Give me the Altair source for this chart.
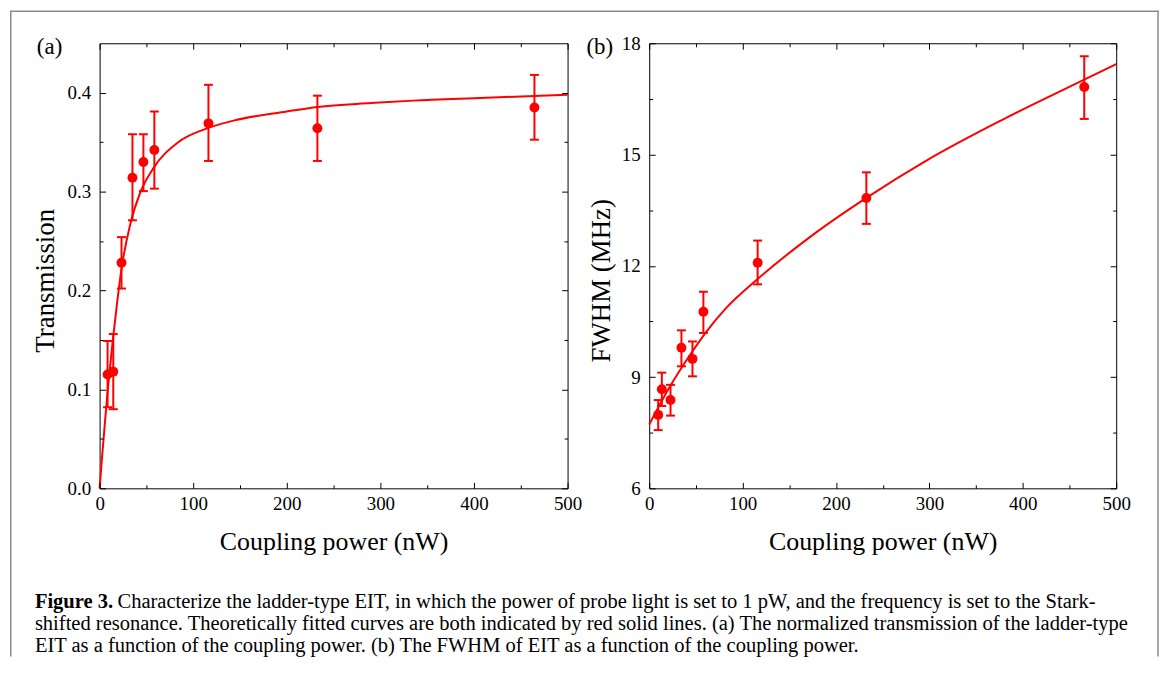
import altair as alt
import pandas as pd

FONT = "Liberation Serif"
RED = "#ff0000"

# ---------------- Panel (a): transmission ----------------
a_power = [8.5, 14.6, 23.4, 35.1, 46.8, 58.5, 116.3, 232.7, 464.6]
a_trans = [0.115, 0.118, 0.228, 0.314, 0.330, 0.342, 0.369, 0.364, 0.385]
a_lo = [0.082, 0.080, 0.202, 0.271, 0.3005, 0.303, 0.331, 0.331, 0.3525]
a_hi = [0.149, 0.156, 0.254, 0.358, 0.358, 0.381, 0.408, 0.397, 0.418]

a_curve_p = [0, 3, 6, 9, 13.8, 19, 23.4, 33, 43, 57, 84, 112, 144, 200, 233, 290, 335, 400, 465, 500]
a_curve_t = [0, 0.036, 0.070, 0.102, 0.147, 0.190, 0.222, 0.268, 0.298, 0.323, 0.350, 0.363,
             0.372, 0.381, 0.3856, 0.3895, 0.392, 0.3945, 0.3967, 0.398]

# ---------------- Panel (b): FWHM ----------------
b_power = [9.6, 13.5, 22.8, 34.5, 46.3, 58.0, 116.1, 232.5, 465.8]
b_fwhm = [7.98, 8.67, 8.38, 9.79, 9.49, 10.76, 12.08, 13.83, 16.82]
b_lo = [7.57, 8.22, 7.96, 9.29, 9.02, 10.19, 11.50, 13.13, 15.96]
b_hi = [8.38, 9.12, 8.79, 10.26, 9.96, 11.30, 12.68, 14.52, 17.65]

b_curve_p = [0, 21.4, 42.7, 60.5, 82, 115.5, 174.5, 232.5, 299, 377.5, 465.8, 500]
b_curve_f = [7.72, 8.71, 9.56, 10.2, 10.85, 11.63, 12.82, 13.83, 14.87, 15.93, 17.02, 17.44]

# ---------------- axis ticks / labels ----------------
x_major = [0, 100, 200, 300, 400, 500]
x_minor = [50, 150, 250, 350, 450]
a_y_major = [0.0, 0.1, 0.2, 0.3, 0.4]
a_y_minor = [0.05, 0.15, 0.25, 0.35]
b_y_major = [6, 9, 12, 15, 18]
b_y_minor = [7.5, 10.5, 13.5, 16.5]

x_title = "Coupling power (nW)"
a_y_title = "Transmission"
b_y_title = "FWHM (MHz)"

caption_bold = "Figure 3."
caption_1 = ("Characterize the ladder-type EIT, in which the power of probe light is set to 1 pW, "
             "and the frequency is set to the Stark-")
caption_2 = ("shifted resonance. Theoretically fitted curves are both indicated by red solid lines. "
             "(a) The normalized transmission of the ladder-type")
caption_3 = "EIT as a function of the coupling power. (b) The FWHM of EIT as a function of the coupling power."

W_A, W_B, H = 470, 469, 447
CAP = 20.6


def tick_axis(orient, values, size):
    return alt.Axis(orient=orient, values=values, labels=False, domain=False, title=None,
                    ticks=True, tickSize={"expr": str(-size)}, tickColor="black",
                    tickWidth=1, grid=False, zindex=1)


def label_axis(orient, values, title, fmt=None, title_x=None):
    kw = dict(orient=orient, values=values, labels=True, ticks=False, domain=False,
              title=title, grid=False, labelFlush=False, labelOverlap=False,
              labelFont=FONT, labelFontSize=19, labelColor="black",
              titleFont=FONT, titleFontWeight="normal", titleColor="black")
    if fmt:
        kw["format"] = fmt
    if orient == "bottom":
        kw.update(labelPadding=6, titlePadding=15, titleFontSize=26)
    else:
        kw.update(labelPadding=9, titleFontSize=27, titleX=title_x, titleY=238,
                  titleAngle=270, titleAlign="center", titleBaseline="alphabetic")
    return alt.Axis(**kw)


def text_layer(txt, x, y, size, weight="normal"):
    return alt.Chart(pd.DataFrame({"t": [txt]})).mark_text(
        align="left", baseline="alphabetic", font=FONT, fontSize=size,
        fontWeight=weight, color="black"
    ).encode(text="t:N", x=alt.value(x), y=alt.value(y))


def panel(pts, curve, ydom, ymaj, yminr, ytitle, yfmt, label, title_x):
    xs = alt.Scale(domain=[0, 500], nice=False, zero=False)
    ys = alt.Scale(domain=ydom, nice=False, zero=False)

    line = alt.Chart(curve).mark_line(color=RED, strokeWidth=2, interpolate="monotone").encode(
        x=alt.X("p:Q", scale=xs, axis=label_axis("bottom", x_major, x_title)),
        y=alt.Y("v:Q", scale=ys, axis=label_axis("left", ymaj, ytitle, yfmt, title_x)),
    )
    bars = alt.Chart(pts).mark_rule(color=RED, strokeWidth=2).encode(
        x=alt.X("p:Q", scale=xs, axis=tick_axis("bottom", x_major, 6)),
        y=alt.Y("lo:Q", scale=ys, axis=tick_axis("left", ymaj, 6)),
        y2="hi:Q",
    )
    cap_lo = alt.Chart(pts).mark_point(shape="M-1,0L1,0", size=81, filled=False,
                                       color=RED, strokeWidth=2, opacity=1).encode(
        x=alt.X("p:Q", scale=xs, axis=tick_axis("bottom", x_minor, 3.5)),
        y=alt.Y("lo:Q", scale=ys, axis=tick_axis("left", yminr, 3.5)),
    )
    cap_hi = alt.Chart(pts).mark_point(shape="M-1,0L1,0", size=81, filled=False,
                                       color=RED, strokeWidth=2, opacity=1).encode(
        x=alt.X("p:Q", scale=xs, axis=tick_axis("top", x_major, 6)),
        y=alt.Y("hi:Q", scale=ys, axis=tick_axis("right", ymaj, 6)),
    )
    dots = alt.Chart(pts).mark_point(filled=True, size=100, color=RED, opacity=1).encode(
        x=alt.X("p:Q", scale=xs, axis=tick_axis("top", x_minor, 3.5)),
        y=alt.Y("v:Q", scale=ys, axis=tick_axis("right", yminr, 3.5)),
    )
    lab = text_layer(label, -63, 11, 23)
    return [line, bars, cap_lo, cap_hi, dots, lab]


a_pts = pd.DataFrame({"p": a_power, "v": a_trans, "lo": a_lo, "hi": a_hi})
a_cur = pd.DataFrame({"p": a_curve_p, "v": a_curve_t})
b_pts = pd.DataFrame({"p": b_power, "v": b_fwhm, "lo": b_lo, "hi": b_hi})
b_cur = pd.DataFrame({"p": b_curve_p, "v": b_curve_f})

layers_a = panel(a_pts, a_cur, [0, 0.45], a_y_major, a_y_minor, a_y_title, ".1f", "(a)", -46)
layers_b = panel(b_pts, b_cur, [6, 18], b_y_major, b_y_minor, b_y_title, "d", "(b)", -40)

# caption and figure frame (drawn relative to panel (a))
one = pd.DataFrame({"k": [0]})
frame_color = "#8a8a8a"
frame = [
    alt.Chart(one).mark_rule(color=frame_color, strokeWidth=1.5).encode(
        x=alt.value(-89.25), y=alt.value(-32.5), y2=alt.value(616)),
    alt.Chart(one).mark_rule(color=frame_color, strokeWidth=1.5).encode(
        x=alt.value(1063), y=alt.value(-32.5), y2=alt.value(616)),
    alt.Chart(one).mark_rule(color=frame_color, strokeWidth=1.5).encode(
        x=alt.value(-90), x2=alt.value(1063.75), y=alt.value(-32.25)),
]
caption = [
    text_layer(caption_bold, -65, 567, CAP, "bold"),
    text_layer(caption_1, 18, 567, CAP),
    text_layer(caption_2, -65, 589, CAP),
    text_layer(caption_3, -65, 611, CAP),
]

chart_a = alt.layer(*(layers_a + frame + caption)).resolve_axis(
    x="independent", y="independent").properties(width=W_A, height=H)
chart_b = alt.layer(*layers_b).resolve_axis(
    x="independent", y="independent").properties(width=W_B, height=H)

chart = alt.hconcat(chart_a, chart_b, spacing=82, bounds="flush").properties(
    padding=0
).configure(background="white", font=FONT).configure_view(
    stroke="black", strokeWidth=1
).configure_axis(labelFont=FONT, titleFont=FONT, labelColor="black", titleColor="black")

chart.save("out.html", embed_options={"renderer": "svg", "actions": False})
